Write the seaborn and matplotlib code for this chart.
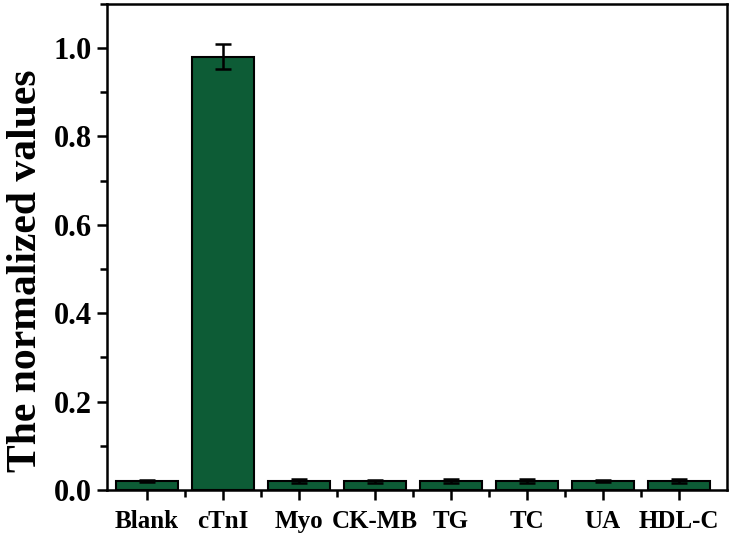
import numpy as np
import pandas as pd
import matplotlib
matplotlib.use("Agg")
import matplotlib.pyplot as plt
import seaborn as sns
from matplotlib.ticker import MultipleLocator

# Data
categories = ["Blank", "cTnI", "Myo", "CK-MB", "TG", "TC", "UA", "HDL-C"]
values = [0.020, 0.980, 0.020, 0.020, 0.020, 0.020, 0.020, 0.020]
errors = [0.002, 0.028, 0.004, 0.003, 0.005, 0.004, 0.002, 0.005]

df = pd.DataFrame({"sample": categories, "value": values, "err": errors})

sns.set_style("ticks")
plt.rcParams["font.family"] = ["Liberation Serif", "DejaVu Serif"]
plt.rcParams["font.weight"] = "bold"
plt.rcParams["text.color"] = "black"
plt.rcParams["axes.labelcolor"] = "black"
plt.rcParams["xtick.color"] = "black"
plt.rcParams["ytick.color"] = "black"
plt.rcParams["axes.edgecolor"] = "black"

fig = plt.figure(figsize=(7.29, 5.35), dpi=100)
ax = fig.add_axes([0.147, 0.084, 0.850, 0.909])

sns.barplot(data=df, x="sample", y="value", color="#0d5c36", saturation=1,
            edgecolor="black", linewidth=1.5, width=0.82, errorbar=None, ax=ax)
ax.errorbar(np.arange(len(categories)), df["value"], yerr=df["err"], fmt="none",
            ecolor="black", elinewidth=1.8, capsize=6, capthick=1.8)

ax.set_xlim(-0.52, 7.63)
ax.set_ylim(0, 1.1)
ax.yaxis.set_major_locator(MultipleLocator(0.2))
ax.yaxis.set_minor_locator(MultipleLocator(0.1))
ax.set_xticks(np.arange(len(categories)))
ax.set_xticks(np.arange(len(categories) - 1) + 0.5, minor=True)
ax.set_xticklabels(categories, fontsize=18, fontweight="bold")
ax.set_yticklabels([f"{v:.1f}" for v in ax.get_yticks()], fontsize=22, fontweight="bold")
ax.set_xlabel("")
ax.set_ylabel("The normalized values", fontsize=30, fontweight="bold")
ax.yaxis.set_label_coords(-0.1, 0.45)

for s in ax.spines.values():
    s.set_linewidth(1.8)
    s.set_visible(True)
ax.tick_params(axis="y", which="major", direction="out", length=7, width=1.8, pad=4)
ax.tick_params(axis="x", which="major", direction="out", length=7, width=1.8, pad=7)
ax.tick_params(axis="both", which="minor", direction="out", length=5, width=1.8)

fig.savefig("out.png", dpi=100)
